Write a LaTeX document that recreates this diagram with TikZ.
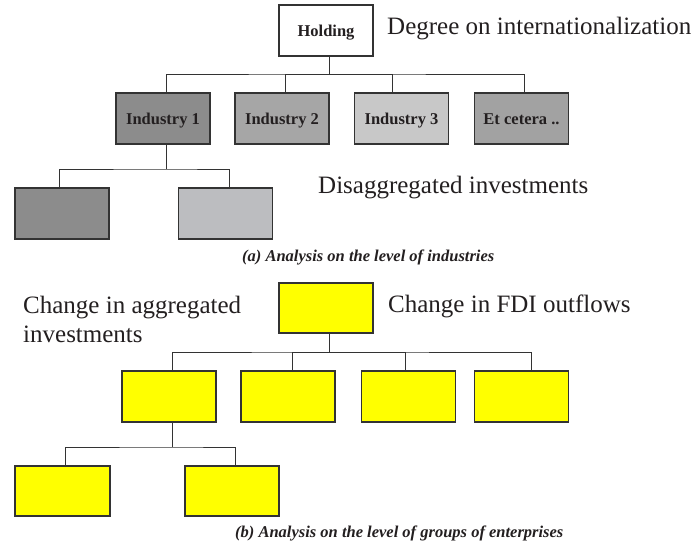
\documentclass[tikz,border=0pt]{standalone}
\usepackage{fontspec}
\setmainfont{Liberation Serif}
\definecolor{txt}{HTML}{231F20}
\definecolor{gA}{HTML}{8C8C8C}
\definecolor{gB}{HTML}{A6A6A6}
\definecolor{gC}{HTML}{C8C8C8}
\definecolor{gD}{HTML}{A2A2A2}
\definecolor{gE}{HTML}{BCBDC0}
\definecolor{yel}{HTML}{FFFF00}
\begin{document}
\begin{tikzpicture}[x=1pt,y=-1pt,
  bx/.style={draw=black!80,line width=1.2pt,minimum width=94pt,minimum height=51pt,inner sep=0pt,
    text height=14pt,text depth=1.5pt,
    font=\fontsize{16.5}{19}\selectfont\bfseries,text=txt},
  ybx/.style={bx,fill=yel},
  conn/.style={draw=black!80,line width=1pt},
  big/.style={font=\fontsize{25}{29}\selectfont,text=txt,inner sep=0pt},
  captext/.style={font=\fontsize{16.5}{19}\selectfont\bfseries\itshape,text=txt,inner sep=0pt}]
\useasboundingbox (0,0) rectangle (693,554);
% (a)
\node[bx,fill=white] (hold) at (326,30.5) {Holding};
\node[bx,fill=gA] (ind1) at (163,118.5) {Industry 1};
\node[bx,fill=gB] (ind2) at (282,118.5) {Industry 2};
\node[bx,fill=gC] (ind3) at (401.5,118.5) {Industry 3};
\node[bx,fill=gD] (ind4) at (521.5,118.5) {Et cetera ..};
\node[bx,fill=gA] (dis1) at (62,213.5) {};
\node[bx,fill=gE] (dis2) at (225.5,213.5) {};
\coordinate (busA) at (329,74);
\coordinate (busB) at (166,169);
\draw[conn] ([xshift=3pt]hold.south) -- (busA);
\draw[conn] ([xshift=3pt]ind1.north) |- (busA) -| ([xshift=2.5pt]ind4.north);
\draw[conn] ([xshift=3pt]ind2.north) |- (busA);
\draw[conn] ([xshift=-9.5pt]ind3.north) |- (busA);
\draw[conn] ([xshift=3pt]ind1.south) -- (busB);
\draw[conn] ([xshift=-3pt]dis1.north) |- (busB) -| ([xshift=3.5pt]dis2.north);
\node[big,anchor=base west] (deg) at (387,34.5) {Degree on internationalization};
\node[big,anchor=base west] (disag) at (318,193) {Disaggregated investments};
\node[captext,anchor=base west] (capa) at (242,261.5) {(a) Analysis on the level of industries};
% (b)
\node[ybx,minimum height=50pt] (ytop) at (326,308) {};
\node[ybx] (y1) at (169,396.5) {};
\node[ybx] (y2) at (288,396.5) {};
\node[ybx] (y3) at (408.5,396.5) {};
\node[ybx] (y4) at (521.5,396.5) {};
\node[ybx,minimum height=50pt,minimum width=95pt] (y5) at (62.5,491) {};
\node[ybx,minimum height=50pt] (y6) at (232,491) {};
\coordinate (busC) at (329,352);
\coordinate (busD) at (172,447);
\draw[conn] ([xshift=3pt]ytop.south) -- (busC);
\draw[conn] ([xshift=3pt]y1.north) |- (busC) -| ([xshift=9.5pt]y4.north);
\draw[conn] ([xshift=4pt]y2.north) |- (busC);
\draw[conn] ([xshift=-3.5pt]y3.north) |- (busC);
\draw[conn] ([xshift=3pt]y1.south) -- (busD);
\draw[conn] ([xshift=2.5pt]y5.north) |- (busD) -| ([xshift=3pt]y6.north);
\node[big,anchor=base west,align=left] (chg) at (23,342) {Change in aggregated\\investments};
\node[big,anchor=base west] (fdi) at (388,312.5) {Change in FDI outflows};
\node[captext,anchor=base west] (capb) at (235,537) {(b) Analysis on the level of groups of enterprises};
\end{tikzpicture}
\end{document}
